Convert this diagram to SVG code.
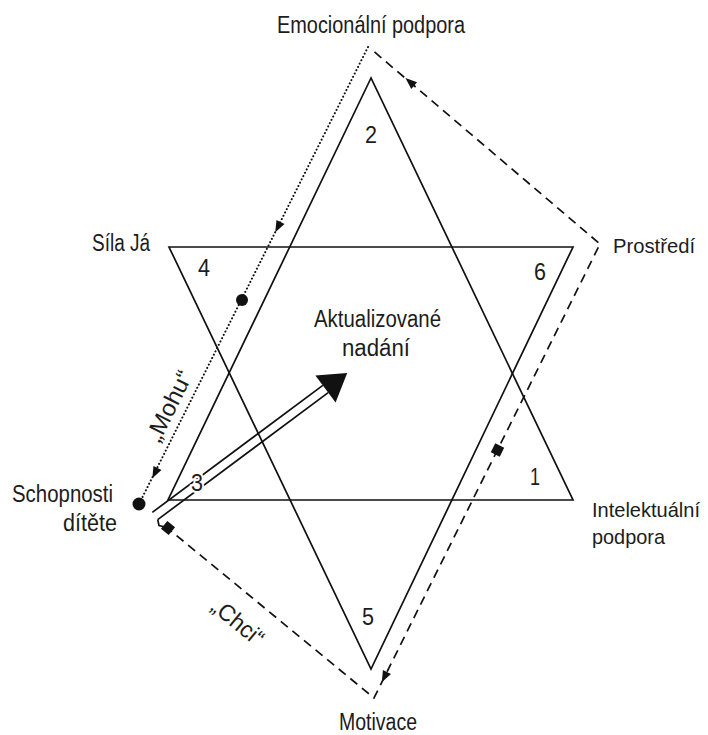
<svg xmlns="http://www.w3.org/2000/svg" width="708" height="735" viewBox="0 0 708 735">
<style>
  .ln{fill:none;stroke:#111;stroke-width:1.7;stroke-linejoin:miter}
  .dot{fill:none;stroke:#111;stroke-width:2;stroke-dasharray:0.1 3.6;stroke-linecap:round}
  .dash{fill:none;stroke:#111;stroke-width:1.7;stroke-dasharray:9 6}
  .shaft{fill:none;stroke:#111;stroke-width:1.7}
  .lbl{font-family:"Liberation Sans",Arial,sans-serif;font-size:23.5px;fill:#1c1c1c}
  .rl{font-size:21px}
  .num{font-family:"Liberation Sans",Arial,sans-serif;font-size:23px;fill:#1c1c1c;text-anchor:middle}
  .blk{fill:#111}
</style>
<defs>
  <path id="ah" d="M6,0 L-5.5,-4.5 L-5.5,4.5 Z"/>
  <rect id="sq" x="-5" y="-5" width="10" height="10"/>
</defs>
<rect width="708" height="735" fill="#fff"/>

<g id="star">
  <polygon class="ln" points="371,78 168,500 573,500"/>
  <polygon class="ln" points="169,247 573,247 371,669"/>
  <text class="num" x="371" y="143" textLength="12" lengthAdjust="spacingAndGlyphs">2</text>
  <text class="num" x="204" y="276" textLength="12" lengthAdjust="spacingAndGlyphs">4</text>
  <text class="num" x="540" y="280" textLength="12" lengthAdjust="spacingAndGlyphs">6</text>
  <text class="num" x="535" y="485" textLength="10" lengthAdjust="spacingAndGlyphs">1</text>
  <text class="num" x="368" y="625" textLength="12" lengthAdjust="spacingAndGlyphs">5</text>
</g>

<g id="connectors">
  <path class="dot" d="M368,47 L139,504"/>
  <circle class="blk" cx="242" cy="300" r="6"/>
  <circle class="blk" cx="139" cy="504" r="6.5"/>
  <use href="#ah" class="blk" transform="translate(278,227) rotate(116.6)"/>
  <use href="#ah" class="blk" transform="translate(155,473) rotate(116.6)"/>

  <path class="dash" d="M165,526 L374,698 L600,244 L371,49"/>
  <use href="#ah" class="blk" transform="translate(410,82) rotate(-139.7)"/>
  <use href="#ah" class="blk" transform="translate(384.5,677) rotate(116.5)"/>
  <use href="#sq" class="blk" transform="translate(168,528) rotate(39.5)"/>
  <use href="#sq" class="blk" transform="translate(497.5,450) rotate(116.5)"/>

  <g id="main-arrow">
    <line class="shaft" x1="152.3" y1="512.4" x2="322.8" y2="385.4"/>
    <line class="shaft" x1="157.7" y1="519.6" x2="328.2" y2="392.6"/>
    <polyline class="shaft" points="157.7,519.6 159,525.5 165,527"/>
    <polygon class="blk" points="347.2,372.9 315.4,375.4 335.6,402.6"/>
  </g>
  <text class="num" x="197" y="491" stroke="#fff" stroke-width="4" paint-order="stroke" textLength="12" lengthAdjust="spacingAndGlyphs">3</text>

  <text class="lbl" transform="translate(169,406) rotate(-63.4)" x="0" y="8" text-anchor="middle" textLength="76" lengthAdjust="spacingAndGlyphs">„Mohu“</text>
  <text class="lbl" transform="translate(238,622) rotate(39.5)" x="0" y="8" text-anchor="middle" textLength="60" lengthAdjust="spacingAndGlyphs">„Chci“</text>
</g>

<g id="node-emocionalni">
  <text class="lbl" x="277" y="33" textLength="188" lengthAdjust="spacingAndGlyphs">Emocionální podpora</text>
</g>
<g id="node-sila">
  <text class="lbl" x="92" y="251" textLength="58" lengthAdjust="spacingAndGlyphs">Síla Já</text>
</g>
<g id="node-prostredi">
  <text class="lbl rl" x="613" y="253" textLength="82" lengthAdjust="spacingAndGlyphs">Prostředí</text>
</g>
<g id="node-aktualizovane">
  <text class="lbl" x="314" y="327" textLength="127" lengthAdjust="spacingAndGlyphs">Aktualizované</text>
  <text class="lbl" x="342" y="356" textLength="68" lengthAdjust="spacingAndGlyphs">nadání</text>
</g>
<g id="node-schopnosti">
  <text class="lbl" x="12" y="502" textLength="101" lengthAdjust="spacingAndGlyphs">Schopnosti</text>
  <text class="lbl" x="63" y="531" textLength="54" lengthAdjust="spacingAndGlyphs">dítěte</text>
</g>
<g id="node-intelektualni">
  <text class="lbl rl" x="592" y="517" textLength="108" lengthAdjust="spacingAndGlyphs">Intelektuální</text>
  <text class="lbl rl" x="592" y="544" textLength="73" lengthAdjust="spacingAndGlyphs">podpora</text>
</g>
<g id="node-motivace">
  <text class="lbl" x="339" y="730" textLength="78" lengthAdjust="spacingAndGlyphs">Motivace</text>
</g>
</svg>
